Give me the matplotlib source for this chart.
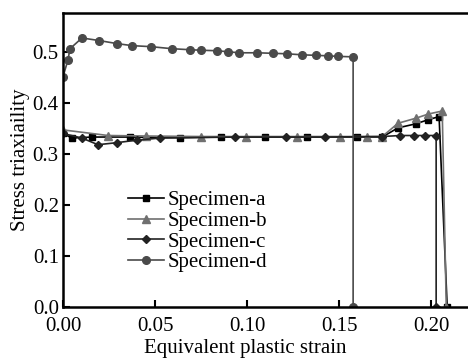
import numpy as np
import matplotlib
matplotlib.use('Agg')
import matplotlib.pyplot as plt

plt.rcParams['font.family'] = ['Liberation Serif', 'DejaVu Serif']
plt.rcParams['mathtext.fontset'] = 'stix'

# Specimen-a (squares)
strain_a = [0.0, 0.0049, 0.0158, 0.0364, 0.0636, 0.0859, 0.1098, 0.1326,
            0.1598, 0.1734, 0.1820, 0.1918, 0.1984, 0.2043, 0.2087]
triax_a = [0.340, 0.331, 0.333, 0.333, 0.332, 0.333, 0.333, 0.333,
           0.333, 0.333, 0.351, 0.359, 0.367, 0.373, 0.0]

# Specimen-b (triangles)
strain_b = [0.0, 0.0245, 0.0451, 0.0750, 0.0995, 0.1270, 0.1505, 0.1652,
            0.1734, 0.1820, 0.1918, 0.1984, 0.2060, 0.2082]
triax_b = [0.347, 0.336, 0.335, 0.334, 0.334, 0.334, 0.334, 0.334,
           0.334, 0.360, 0.370, 0.378, 0.384, 0.0]

# Specimen-c (diamonds)
strain_c = [0.0, 0.0103, 0.0190, 0.0293, 0.0402, 0.0527, 0.0935, 0.1212,
            0.1424, 0.1734, 0.1832, 0.1908, 0.1967, 0.2027, 0.2027]
triax_c = [0.340, 0.331, 0.318, 0.322, 0.327, 0.331, 0.333, 0.333,
           0.333, 0.334, 0.336, 0.336, 0.336, 0.336, 0.0]

# Specimen-d (circles)
strain_d = [0.0, 0.0027, 0.0038, 0.0103, 0.0196, 0.0293, 0.0375, 0.0478,
            0.0592, 0.0690, 0.0750, 0.0837, 0.0897, 0.0957, 0.1054, 0.1140,
            0.1217, 0.1300, 0.1375, 0.1440, 0.1495, 0.1576, 0.1576]
triax_d = [0.451, 0.484, 0.506, 0.527, 0.522, 0.516, 0.512, 0.510,
           0.506, 0.504, 0.503, 0.502, 0.500, 0.498, 0.498, 0.497,
           0.496, 0.494, 0.493, 0.492, 0.491, 0.490, 0.0]

fig = plt.figure(figsize=(4.68, 3.6), dpi=100)
ax = fig.add_axes([0.1346, 0.147, 0.8654, 0.817])

ax.plot(strain_a, triax_a, color='black', marker='s', ms=5, lw=1.2,
        label='Specimen-a')
ax.plot(strain_b, triax_b, color='#707070', marker='^', ms=6, lw=1.2,
        label='Specimen-b')
ax.plot(strain_c, triax_c, color='#222222', marker='D', ms=4.5, lw=1.2,
        label='Specimen-c')
ax.plot(strain_d, triax_d, color='#4a4a4a', marker='o', ms=5.5, lw=1.2,
        label='Specimen-d')

ax.set_xlim(0, 0.22)
ax.set_ylim(0, 0.576)
ax.set_xticks([0.00, 0.05, 0.10, 0.15, 0.20])
ax.set_yticks([0.0, 0.1, 0.2, 0.3, 0.4, 0.5])
ax.set_xticklabels(['0.00', '0.05', '0.10', '0.15', '0.20'])
ax.set_yticklabels(['0.0', '0.1', '0.2', '0.3', '0.4', '0.5'])
ax.tick_params(direction='in', length=5, width=1.5, labelsize=15)
ax.tick_params(axis='x', pad=7)
ax.tick_params(axis='y', pad=3)
for side in ['left', 'bottom', 'top']:
    ax.spines[side].set_linewidth(1.8)
ax.spines['right'].set_visible(False)

ax.set_xlabel('Equivalent plastic strain', fontsize=15)
ax.xaxis.set_label_coords(0.449, -0.108)
ax.set_ylabel('Stress triaxiaility', fontsize=15, labelpad=2)

ax.legend(loc='lower left', bbox_to_anchor=(0.136, 0.083), frameon=False,
          fontsize=15, handlelength=1.7, handletextpad=0.2,
          labelspacing=0.05, borderpad=0)

fig.savefig('out.png', dpi=100)
